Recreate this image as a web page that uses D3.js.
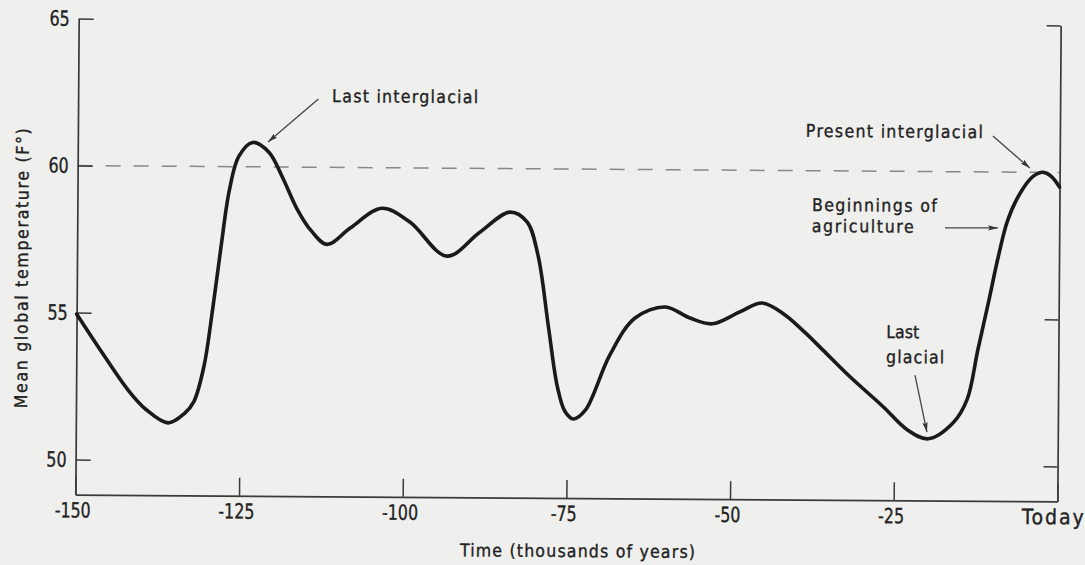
<!DOCTYPE html>
<html><head><meta charset="utf-8">
<script src="https://cdn.jsdelivr.net/npm/d3@7"></script>
<style>
html,body{margin:0;padding:0;background:#efefed;}
svg{display:block;}
text{font-family:"Liberation Sans Narrow","DejaVu Sans Condensed","Roboto Condensed",sans-serif;fill:#222;stroke:#222;stroke-width:0.35px;}
</style></head><body>
<svg id="chart" width="1085" height="565"></svg>
<script>
// ---- data (thousands of years vs. mean global temperature, °F) ----
const times = [-150, -146, -142, -139.3, -135.9, -133.4, -132.0, -130.5, -129.2, -128.0,
  -126.8, -125.4, -123.3, -120.8, -118.6, -116.5, -114.3, -111.8, -108.3, -103.5,
  -99.2, -93.5, -88.5, -83.9, -81.3, -79.6, -77.9, -76.5, -75.3, -74.0,
  -72.2, -68.5, -64.7, -60.1, -56.3, -52.9, -48.7, -45.3, -41.8, -38.7,
  -36.0, -31.8, -26.7, -23.0, -19.8, -16.0, -13.9, -12.3, -10.7, -9.3,
  -7.9, -6.1, -4.1, -2.5, -1.2, 0];
const temps = [54.95, 53.62, 52.36, 51.72, 51.27, 51.6, 52.0, 53.2, 55.2, 57.3,
  59.2, 60.35, 60.83, 60.5, 59.6, 58.6, 57.85, 57.38, 57.94, 58.62,
  58.16, 57.01, 57.83, 58.52, 58.19, 57.07, 54.6, 52.6, 51.75, 51.5,
  51.8, 53.69, 54.95, 55.33, 54.96, 54.77, 55.18, 55.49, 55.09, 54.49,
  53.91, 53.0, 51.99, 51.21, 50.91, 51.46, 52.25, 53.95, 55.6, 57.1,
  58.35, 59.25, 59.85, 60.0, 59.85, 59.5];
const xTickValues = [-150, -125, -100, -75, -50, -25, 0];
const xTickLabels = ["-150", "-125", "-100", "-75", "-50", "-25", "Today"];
const yTickValues = [50, 55, 60, 65];
const yTickLabels = ["50", "55", "60", "65"];
const rightTickValues = [50, 55, 65];
const referenceTemp = 60;
const xDomain = [-150, 0];
const yDomain = [48.81, 65];
const xTitle = "Time (thousands of years)";
const yTitle = "Mean global temperature (F°)";
// annotations (data coordinates)
const annLines = [["Last interglacial"], ["Present interglacial"], ["Beginnings of", "agriculture"], ["Last", "glacial"]];
const annTextAt = [[-111.2, 62.22], [-38.8, 61.15], [-37.8, 58.63], [-26.3, 54.33]];
const annArrowFrom = [[-113.3, 62.32], [-10.23, 61.22], [-17.45, 58.09], [-21.88, 53.07]];
const annArrowTo = [[-120.95, 60.85], [-4.55, 60.14], [-9.36, 58.10], [-19.99, 51.14]];

// ---- styling / layout ----
const annWidths = [[146], [177], [125, 102], [null, 58]];
const annLineGap = [0, 0, 21, 25];
const L = 77, R = 1059, T = 22, B = 498;

const svg = d3.select("#chart");
svg.append("rect").attr("width", 1085).attr("height", 565).attr("fill", "#efefed");
const g = svg.append("g").attr("transform", "rotate(0.4,566,262)");

const x = d3.scaleLinear().domain(xDomain).range([L, R]);
const y = d3.scaleLinear().domain(yDomain).range([B, T]);

// reference line
g.append("line")
  .attr("x1", x(xDomain[0])).attr("x2", x(xDomain[1]))
  .attr("y1", y(referenceTemp)).attr("y2", y(referenceTemp))
  .attr("stroke", "#888").attr("stroke-width", 1.5)
  .attr("stroke-dasharray", "15,13");

// axes
const axL = g.append("g").attr("transform", `translate(${L},0)`)
  .call(d3.axisLeft(y).tickValues(yTickValues).tickFormat((d, i) => yTickLabels[i])
    .tickSizeInner(-15).tickSizeOuter(0).tickPadding(9));
const axB = g.append("g").attr("transform", `translate(0,${B})`)
  .call(d3.axisBottom(x).tickValues(xTickValues).tickFormat((d, i) => xTickLabels[i])
    .tickSizeInner(-18).tickSizeOuter(0).tickPadding(8));
const axR = g.append("g").attr("transform", `translate(${R},0)`)
  .call(d3.axisRight(y).tickValues(rightTickValues).tickFormat("")
    .tickSizeInner(-14).tickSizeOuter(0));
[axL, axB, axR].forEach(a => {
  a.attr("font-size", 21).attr("font-family", null).attr("color", "#3a3a3a");
  a.selectAll("path.domain").attr("stroke-width", 1.7);
  a.selectAll(".tick line").attr("stroke-width", 1.5);
});
// condensed look for numeric tick labels
[axL, axB].forEach(a => a.selectAll(".tick text").each(function (d) {
  if (d === 0 && a === axB) {
    d3.select(this).attr("dx", -5).attr("textLength", 62).attr("lengthAdjust", "spacing");
  } else {
    const w = this.getComputedTextLength();
    d3.select(this).attr("textLength", w * 0.84).attr("lengthAdjust", "spacingAndGlyphs");
    if (a === axB) d3.select(this).attr("dx", -3);
  }
}));

// curve
const pts = times.map((t, i) => [t, temps[i]]);
g.append("path").datum(pts)
  .attr("fill", "none").attr("stroke", "#1a1a1a").attr("stroke-width", 3.6)
  .attr("stroke-linejoin", "round").attr("stroke-linecap", "round")
  .attr("d", d3.line().x(d => x(d[0])).y(d => y(d[1])).curve(d3.curveCatmullRom.alpha(0.5)));

// arrow marker
svg.append("defs").append("marker").attr("id", "arr")
  .attr("markerUnits", "userSpaceOnUse").attr("markerWidth", 11).attr("markerHeight", 7)
  .attr("refX", 10).attr("refY", 3.5).attr("orient", "auto")
  .append("path").attr("d", "M0,0.8 L10,3.5 L0,6.2 L2,3.5 Z").attr("fill", "#333");

// annotations
annLines.forEach((lines, i) => {
  const t = g.append("text").attr("x", x(annTextAt[i][0])).attr("y", y(annTextAt[i][1]))
    .attr("font-size", 17.5);
  lines.forEach((s, j) => {
    const ts = t.append("tspan").attr("x", x(annTextAt[i][0])).attr("dy", j === 0 ? 0 : annLineGap[i]).text(s);
    if (annWidths[i][j]) ts.attr("textLength", annWidths[i][j]).attr("lengthAdjust", "spacing");
  });
  g.append("line")
    .attr("x1", x(annArrowFrom[i][0])).attr("y1", y(annArrowFrom[i][1]))
    .attr("x2", x(annArrowTo[i][0])).attr("y2", y(annArrowTo[i][1]))
    .attr("stroke", "#444").attr("stroke-width", 1.3).attr("marker-end", "url(#arr)");
});

// axis titles
g.append("text").attr("x", 579.5).attr("y", 557).attr("text-anchor", "middle")
  .attr("font-size", 17.5).attr("textLength", 235).attr("lengthAdjust", "spacing").text(xTitle);
g.append("text").attr("transform", "translate(28,272) rotate(-90)").attr("text-anchor", "middle")
  .attr("font-size", 17.5).attr("textLength", 280).attr("lengthAdjust", "spacing").text(yTitle);
</script>
</body></html>
